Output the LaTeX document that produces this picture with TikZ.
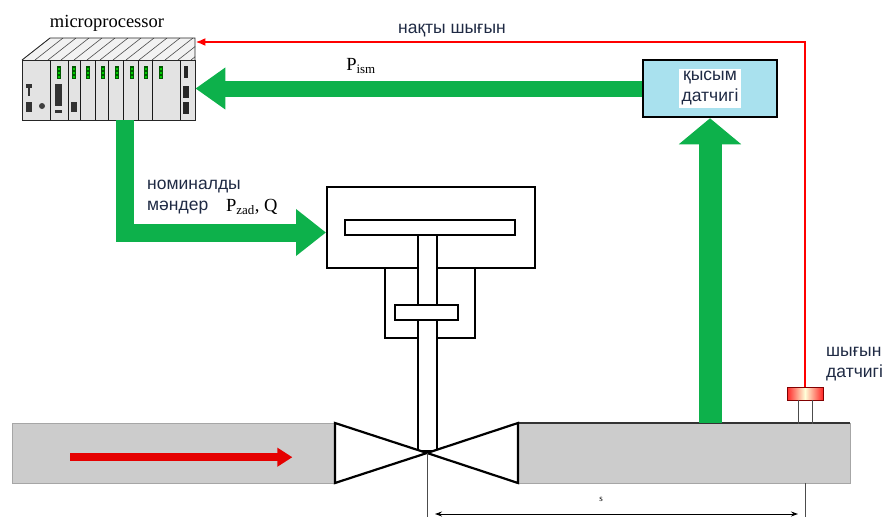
\documentclass[tikz,border=0pt]{standalone}
\usepackage{fontspec}
\setmainfont{Liberation Serif}
\newfontfamily\kzfont{Liberation Sans}
\usetikzlibrary{arrows.meta,calc}

\definecolor{flowgreen}{HTML}{0DB14B}
\definecolor{pipegray}{HTML}{CCCCCC}
\definecolor{sensblue}{HTML}{A9E1EE}
\definecolor{labelblue}{HTML}{1F2A44}

\tikzset{
  greenarrow/.style n args={3}{draw=flowgreen, line width=#1, line join=miter, -{Triangle[width=#2,length=#3]}},
  pipe/.style={fill=pipegray, draw=gray!70, inner sep=0pt, anchor=north west},
  part/.style={draw=black, line width=2.2pt, fill=white},
  kz/.style={font=\kzfont\fontsize{17.5}{21}\selectfont, text=labelblue, align=left, inner sep=0pt},
  lab/.style={font=\fontsize{18.5}{21}\selectfont, inner sep=0pt},
}

\begin{document}
\begin{tikzpicture}[x=1pt,y=-1pt]
  \useasboundingbox (0,0) rectangle (889,517);

  \node[pipe, minimum width=323, minimum height=60] (lpipe) at (12,423) {};
  \node[pipe, minimum width=332, minimum height=60] (rpipe) at (518,423) {};
  \draw[line width=1.6pt, black!80] (rpipe.north west) -- (rpipe.north east);
  \draw[draw=red!90!black, line width=8pt, -{Triangle[width=18pt,length=15pt]}]
    ($(lpipe.west)+(58,4)$) -- ($(lpipe.east)+(-43,4)$);

  \node[draw, line width=2pt, fill=white, minimum width=208, minimum height=81, inner sep=0pt] (act) at (431,227.5) {};
  \draw[part, line width=2.5pt] (345,220) rectangle (515,235);
  \draw[line width=2pt] (385,268) |- (475,338) -- (475,268);
  \draw[part, line width=2pt] (418,235) rectangle (437,451);
  \draw[part, line width=2pt] (395,305) rectangle (458,320);
  \coordinate (vc) at (427,453);
  \draw[part, line join=miter] (vc) -- ++(-92,-30) -- ++(0,60) -- cycle;
  \draw[part, line join=miter] (vc) -- ++(91,-30) -- ++(0,60) -- cycle;

  \node[minimum width=36, minimum height=13, inner sep=0pt, draw=red!50!black,
    left color=red!85, right color=red!85, middle color=yellow!15] (fsens) at (805,393.5) {};
  \foreach \dx in {-7,7}
    \draw[gray!60!black, line width=1pt] (fsens.south) ++(\dx,0) -- ++(0,24);

  \draw[gray!60!black, line width=0.8pt] (vc) -- (vc |- 0,517);
  \draw[gray!60!black, line width=0.8pt] (rpipe.south -| fsens.south) -- ++(0,34);
  \coordinate (dimL) at ($(vc |- 0,514)+(8,0)$);
  \coordinate (dimR) at ($(fsens.south |- 0,514)+(-7,0)$);
  \draw[line width=0.9pt, {Stealth[length=7pt,width=5pt]}-{Stealth[length=7pt,width=5pt]}] (dimL) -- (dimR);
  \node[font=\fontsize{9}{10}\selectfont, inner sep=0pt] (dimlabel) at (601,499) {s};

  \node[inner sep=0pt, minimum width=173, minimum height=82, anchor=north west] (plc) at (22,38) {};
  \begin{scope}[shift={(plc.north west)}]
    \fill[gray!10] (0,22) -- (28,0) -- (173,0) -- (173,22) -- cycle;
    \begin{scope}
      \clip (0,22) -- (28,0) -- (173,0) -- (173,22) -- cycle;
      \foreach \d in {0,13,...,180}
        \draw[gray!60!black, line width=0.6pt] (\d,22) -- ++(28,-22);
    \end{scope}
    \draw[gray!30!black, line width=0.8pt] (0,22) -- (28,0) -- (173,0) -- (173,22);
    \draw[fill=gray!22, draw=gray!30!black, line width=1pt] (0,22) rectangle (173,82);
    \foreach \d in {28,46,58,73,86,101,116,130,158}
      \draw[gray!20!black, line width=0.9pt] (\d,22) -- (\d,82);
    \foreach \l in {35,50,64,79,93,108,122,137} {
      \fill[green!35!black] (\l,28) rectangle ++(4,13);
      \foreach \k in {30,34,38}
        \fill[green!80!black] (\l+1,\k) rectangle ++(2,2);
    }
    \fill[gray!40!black] (4,46) rectangle ++(6,4);
    \fill[gray!40!black] (6,50) rectangle ++(2,8);
    \fill[gray!40!black] (4,64) rectangle ++(6,10);
    \fill[gray!50!black] (20,68) circle (3);
    \fill[gray!40!black] (33,46) rectangle ++(7,22);
    \fill[gray!40!black] (33,72) rectangle ++(7,3);
    \fill[gray!40!black] (49,64) rectangle ++(6,10);
    \fill[gray!30!black] (162,28) rectangle ++(4,12);
    \fill[gray!30!black] (161,48) rectangle ++(6,12);
    \fill[gray!30!black] (161,64) rectangle ++(6,12);
  \end{scope}
  \node[lab] (plclabel) at (107,23) {microprocessor};

  \node[draw, line width=2.5pt, fill=sensblue, minimum width=134, minimum height=57, inner sep=0pt] (psens) at (710,88.5) {};
  \node[kz, fill=white, inner sep=3pt, align=center] (pslabel) at (psens.center) {қысым\\датчигі};

  \draw[red, line width=2.8pt, -{Latex[length=10pt,width=8pt]}] (fsens.north) |- ($(plc.north east)+(0,4)$);
  \node[kz] (actual) at (452,31) {нақты шығын};
  \node[kz, anchor=west] (fslabel) at (826,364) {шығын\\датчигі};

  \draw[greenarrow={16pt}{40pt}{30pt}] (psens.west) -- (psens.west -| plc.east);
  \node[lab] (pism) at (361,66) {P\textsubscript{ism}};
  \draw[greenarrow={23pt}{61pt}{26pt}] (psens.south |- rpipe.north) -- (psens.south);
  \draw[greenarrow={18pt}{45pt}{30pt}] ($(plc.south)+(16,0)$) |- ($(act.west)+(0,5)$);
  \node[kz, anchor=west] (nomlabel) at (147,197) {номиналды\\мәндер};
  \node[lab, anchor=west] (pzad) at (226,207) {P\textsubscript{zad}, Q};
\end{tikzpicture}
\end{document}
